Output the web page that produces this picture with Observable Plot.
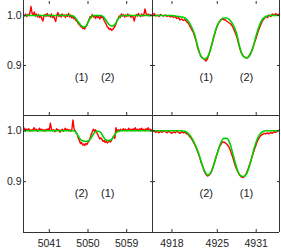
<!DOCTYPE html>
<html><head><meta charset="utf-8">
<script src="https://cdn.jsdelivr.net/npm/d3@7"></script>
<script src="https://cdn.jsdelivr.net/npm/@observablehq/plot@0.6"></script>
<style>
html,body{margin:0;padding:0;background:#fff;}
#c{position:relative;width:281px;height:251px;overflow:hidden;background:#fff;}
</style></head><body><div id="c"></div>
<script>
// wavelength grids (start, step) and axis settings
const leftStart = 5035, rightStart = 4915, obsStep = 0.25, modStep = 0.5;
const leftDomain = [5035, 5065];
const rightDomain = [4915, 4934.6];
const yDomain = [0.80, 1.03];
const leftTicks = [5041, 5050, 5059];
const rightTicks = [4918, 4925, 4931];
const yTicks = [0.9, 1.0];

// top-left: observed (red) and model (green)
const tlObs = [
1.001,0.999,1.003,0.998,1.002,1.000,1.006,1.018,1.004,1.001,1.007,0.999,1.003,0.997,1.002,0.996,1.000,0.994,0.989,0.999,
1.002,0.998,1.004,0.999,1.001,0.997,1.003,0.996,1.000,0.993,0.988,1.001,1.006,0.998,1.002,0.997,1.003,0.999,1.001,0.996,
1.002,0.998,1.004,0.997,1.001,0.995,0.999,0.993,0.995,0.989,0.990,0.983,0.984,0.978,0.979,0.974,0.976,0.973,0.978,0.981,
0.987,0.992,0.998,0.996,1.002,0.997,0.999,0.994,1.000,0.996,0.998,0.993,0.999,0.996,0.997,0.990,0.986,0.982,0.977,0.975,
0.972,0.974,0.970,0.972,0.975,0.978,0.983,0.990,0.994,0.999,0.996,1.003,0.999,1.002,0.997,1.001,0.998,1.003,0.999,1.001,
0.996,1.000,0.997,0.989,0.998,1.002,0.999,1.004,1.000,0.998,1.003,0.999,1.002,1.013,1.004,1.000,1.003,0.999,1.002,1.000,
1.001];
const tlMod = [
1,1,1,1,1,1,1,1,1,1,1,1,1,1,1,1,1,1,1,1,1,1,1,
0.999,0.996,0.990,0.984,0.979,0.977,0.978,0.986,0.995,0.999,1.0,1.0,1.0,1.0,0.998,0.993,0.986,0.981,0.979,0.980,0.985,0.993,0.998,
1,1,1,1,1,1,1,1,1,1,1,1,1,1,1];

// top-right
const trObs = [
1.002,1.004,0.999,1.001,0.998,1.002,1.000,0.999,1.001,0.998,1.000,0.997,0.999,0.996,0.998,0.994,0.996,0.991,0.993,0.990,
0.992,0.988,0.985,0.979,0.973,0.968,0.958,0.948,0.934,0.925,0.918,0.915,0.912,0.909,0.914,0.924,0.935,0.947,0.958,0.970,
0.979,0.986,0.990,0.993,0.992,0.991,0.988,0.986,0.984,0.980,0.974,0.966,0.958,0.945,0.933,0.924,0.919,0.917,0.915,0.916,
0.921,0.928,0.936,0.946,0.955,0.966,0.975,0.983,0.990,0.994,0.998,0.996,1.001,0.998,1.003,1.000,1.004,1.001,1.003,0.999,
1.002];
const trMod = [
1,1,1,1,1,1,1,
0.999,0.998,0.997,0.995,0.989,0.978,0.962,0.937,0.918,0.913,0.917,0.934,0.960,0.980,0.991,0.995,0.995,0.990,0.980,0.963,0.935,0.919,0.915,0.920,0.935,0.960,0.980,0.993,0.998,
1,1,1,1,1];

// bottom-left
const blObs = [
1.002,1.005,1.000,1.003,1.001,1.004,0.999,1.002,1.000,1.003,1.006,1.001,1.003,0.999,1.002,1.005,1.001,1.003,1.000,1.002,
0.999,1.003,1.001,1.004,1.002,1.015,1.003,1.000,1.002,0.998,1.001,1.004,1.000,1.002,0.997,1.001,1.003,0.999,1.002,1.005,
1.001,1.003,1.000,1.002,0.999,1.003,1.021,1.004,1.000,0.996,0.993,0.985,0.981,0.975,0.977,0.972,0.974,0.971,0.975,0.973,
0.977,0.980,0.986,0.993,0.998,1.003,0.999,1.002,0.997,0.993,0.988,0.984,0.986,0.983,0.979,0.981,0.977,0.979,0.976,0.978,
0.980,0.978,0.982,0.986,0.990,0.985,1.006,0.998,1.002,0.999,1.003,1.000,1.002,1.004,1.001,1.003,1.000,1.002,1.005,1.001,
1.003,1.000,1.004,1.002,1.006,1.001,1.003,1.000,1.004,1.002,1.005,1.001,1.003,1.000,1.004,1.002,1.006,1.001,1.003,1.000,
1.002];
const blMod = [
1,1,1,1,1,1,1,1,1,1,1,1,1,1,1,1,1,1,1,1,1,1,1,1,
0.999,0.993,0.986,0.981,0.980,0.979,0.980,0.983,0.990,0.996,0.999,0.999,0.996,0.989,0.983,0.981,0.981,0.983,0.989,0.996,0.999,
1,1,1,1,1,1,1,1,1,1,1,1,1,1,1,1];

// bottom-right
const brObs = [
1.001,0.999,0.997,0.999,0.996,0.999,0.997,1.000,0.998,0.996,0.999,0.997,0.995,0.998,0.996,0.999,0.997,0.995,0.998,0.996,
0.997,0.994,0.993,0.988,0.985,0.979,0.973,0.966,0.958,0.949,0.938,0.929,0.920,0.914,0.911,0.913,0.917,0.925,0.935,0.946,
0.956,0.966,0.972,0.977,0.978,0.976,0.973,0.969,0.962,0.953,0.943,0.932,0.924,0.917,0.912,0.909,0.908,0.911,0.917,0.925,
0.934,0.944,0.954,0.964,0.973,0.981,0.987,0.991,0.993,0.995,0.994,0.996,0.994,0.997,0.995,0.998,0.997,0.999,1.001,1.003,
1.006];
const brMod = [
1,1,1,1,1,1,1,1,1,1,
0.999,0.995,0.987,0.975,0.960,0.940,0.922,0.913,0.918,0.935,0.956,0.975,0.985,0.985,0.973,0.950,0.927,0.913,0.910,0.915,0.932,0.957,0.978,0.992,0.998,
1,1,1,1,1,1];

// component labels (data coordinates)
const labelY = 0.876;
const tlLabels = [{x: 5048.5, t: "(1)"}, {x: 5054.6, t: "(2)"}];
const trLabels = [{x: 4923.3, t: "(1)"}, {x: 4929.5, t: "(2)"}];
const blLabels = [{x: 5048.5, t: "(2)"}, {x: 5054.6, t: "(1)"}];
const brLabels = [{x: 4923.3, t: "(2)"}, {x: 4929.5, t: "(1)"}];

const mk = (start, step, vals) => vals.map((y, i) => ({x: start + i * step, y}));

const AX = "#333";
function panel({left, top, width, height, mL, mR, mB, xDomain, xTicks, obs, mod, labels, isTop, isLeft}) {
  const marks = [
    Plot.line(obs, {x: "x", y: "y", stroke: "#ff0000", strokeWidth: 1.4, clip: true}),
    Plot.line(mod, {x: "x", y: "y", stroke: "#00d000", strokeWidth: 1.6, curve: "monotone-x", clip: true}),
    Plot.text(labels, {x: "x", y: () => labelY, text: "t", fontSize: 11, fill: "#222"}),
    Plot.ruleX([xDomain[0], xDomain[1]], {stroke: AX}),
    Plot.ruleY([yDomain[0]], {stroke: AX}),
    Plot.axisX({ticks: xTicks, anchor: "bottom", tickSize: -3, fill: "none", stroke: AX, label: null}),
    Plot.axisY({ticks: yTicks, anchor: "left", tickSize: -3, fill: "none", stroke: AX, label: null}),
    Plot.axisY({ticks: yTicks, anchor: "right", tickSize: -3, fill: "none", stroke: AX, label: null})
  ];
  if (isTop) marks.push(Plot.axisX({ticks: xTicks, anchor: "top", tickSize: -3, fill: "none", stroke: AX, label: null}));
  else marks.push(Plot.axisX({ticks: xTicks, anchor: "bottom", tickSize: 0, tickPadding: 7, fill: "#222", label: null, tickFormat: d => String(d)}));
  if (isLeft) marks.push(Plot.axisY({ticks: yTicks, anchor: "left", tickSize: 0, tickPadding: 2, fill: "#222", label: null, tickFormat: d3.format(".1f")}));
  return Plot.plot({
    width, height,
    marginLeft: mL, marginRight: mR, marginTop: 0, marginBottom: mB,
    x: {domain: xDomain},
    y: {domain: yDomain},
    style: {position: "absolute", left: left + "px", top: top + "px", background: "transparent",
            fontFamily: "'Liberation Sans', Arial, sans-serif", fontSize: "10.5px", overflow: "visible"},
    marks
  });
}

const c = document.getElementById("c");
c.append(panel({left: 0, top: 115, width: 153, height: 136, mL: 23, mR: 1, mB: 19, xDomain: leftDomain, xTicks: leftTicks,
  obs: mk(leftStart, obsStep, blObs), mod: mk(leftStart, modStep, blMod), labels: blLabels, isTop: false, isLeft: true}));
c.append(panel({left: 152, top: 115, width: 128, height: 136, mL: 0, mR: 1, mB: 19, xDomain: rightDomain, xTicks: rightTicks,
  obs: mk(rightStart, obsStep, brObs), mod: mk(rightStart, modStep, brMod), labels: brLabels, isTop: false, isLeft: false}));
c.append(panel({left: 0, top: 0, width: 153, height: 116, mL: 23, mR: 1, mB: 1, xDomain: leftDomain, xTicks: leftTicks,
  obs: mk(leftStart, obsStep, tlObs), mod: mk(leftStart, modStep, tlMod), labels: tlLabels, isTop: true, isLeft: true}));
c.append(panel({left: 152, top: 0, width: 128, height: 116, mL: 0, mR: 1, mB: 1, xDomain: rightDomain, xTicks: rightTicks,
  obs: mk(rightStart, obsStep, trObs), mod: mk(rightStart, modStep, trMod), labels: trLabels, isTop: true, isLeft: false}));
</script></body></html>
